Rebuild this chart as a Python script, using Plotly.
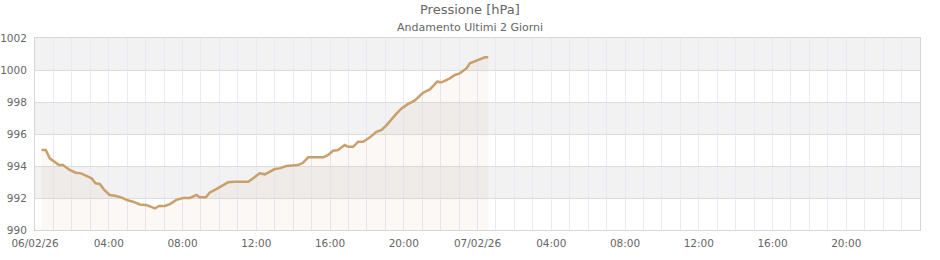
import plotly.graph_objects as go

times = [
    "2026-02-06 00:21", "2026-02-06 00:35", "2026-02-06 00:48", "2026-02-06 00:59",
    "2026-02-06 01:18", "2026-02-06 01:31", "2026-02-06 01:53", "2026-02-06 02:12",
    "2026-02-06 02:30", "2026-02-06 02:53", "2026-02-06 03:04", "2026-02-06 03:17",
    "2026-02-06 03:31", "2026-02-06 03:44", "2026-02-06 04:03", "2026-02-06 04:20",
    "2026-02-06 04:41", "2026-02-06 04:58", "2026-02-06 05:19", "2026-02-06 05:41",
    "2026-02-06 06:02", "2026-02-06 06:16", "2026-02-06 06:30", "2026-02-06 06:44",
    "2026-02-06 07:02", "2026-02-06 07:19", "2026-02-06 07:40", "2026-02-06 08:02",
    "2026-02-06 08:24", "2026-02-06 08:46", "2026-02-06 08:56", "2026-02-06 09:16",
    "2026-02-06 09:29", "2026-02-06 09:50", "2026-02-06 10:12", "2026-02-06 10:28",
    "2026-02-06 10:50", "2026-02-06 11:34", "2026-02-06 11:50", "2026-02-06 12:11",
    "2026-02-06 12:28", "2026-02-06 12:44", "2026-02-06 13:00", "2026-02-06 13:16",
    "2026-02-06 13:38", "2026-02-06 14:16", "2026-02-06 14:32", "2026-02-06 14:49",
    "2026-02-06 15:38", "2026-02-06 15:54", "2026-02-06 16:10", "2026-02-06 16:26",
    "2026-02-06 16:48", "2026-02-06 16:59", "2026-02-06 17:15", "2026-02-06 17:32",
    "2026-02-06 17:48", "2026-02-06 18:10", "2026-02-06 18:31", "2026-02-06 18:48",
    "2026-02-06 19:04", "2026-02-06 19:37", "2026-02-06 19:53", "2026-02-06 20:12",
    "2026-02-06 20:36", "2026-02-06 21:03", "2026-02-06 21:25", "2026-02-06 21:49",
    "2026-02-06 22:03", "2026-02-06 22:30", "2026-02-06 22:46", "2026-02-06 23:02",
    "2026-02-06 23:24", "2026-02-06 23:35", "2026-02-06 23:57", "2026-02-07 00:13",
    "2026-02-07 00:24", "2026-02-07 00:35",
]
pressure = [
    995.0, 995.0, 994.48, 994.33,
    994.06, 994.06, 993.75, 993.58,
    993.54, 993.33, 993.23, 992.92,
    992.88, 992.54, 992.19, 992.14,
    992.04, 991.88, 991.77, 991.6,
    991.56, 991.46, 991.35, 991.5,
    991.5, 991.62, 991.88, 992.0,
    992.0, 992.19, 992.04, 992.04,
    992.35, 992.56, 992.81, 992.98,
    993.02, 993.02, 993.23, 993.54,
    993.48, 993.65, 993.81, 993.85,
    994.0, 994.06, 994.2, 994.54,
    994.54, 994.69, 994.95, 995.0,
    995.31, 995.2, 995.2, 995.52,
    995.52, 995.79, 996.14, 996.25,
    996.56, 997.29, 997.6, 997.85,
    998.1, 998.58, 998.79, 999.27,
    999.23, 999.48, 999.69, 999.79,
    1000.1, 1000.42, 1000.58, 1000.67,
    1000.79, 1000.79,
]

tick_vals = [
    "2026-02-06 00:00", "2026-02-06 04:00", "2026-02-06 08:00", "2026-02-06 12:00",
    "2026-02-06 16:00", "2026-02-06 20:00", "2026-02-07 00:00", "2026-02-07 04:00",
    "2026-02-07 08:00", "2026-02-07 12:00", "2026-02-07 16:00", "2026-02-07 20:00",
]
tick_text = ["06/02/26", "04:00", "08:00", "12:00", "16:00", "20:00",
             "07/02/26", "04:00", "08:00", "12:00", "16:00", "20:00"]
y_ticks = [990, 992, 994, 996, 998, 1000, 1002]
bands = [(992, 994), (996, 998), (1000, 1002)]

x_range = ["2026-02-06 00:00", "2026-02-08 00:00"]

fig = go.Figure()
fig.add_trace(go.Scatter(
    x=times, y=pressure, mode="lines",
    line=dict(color="#c9a06c", width=2.5, shape="linear"),
    fill="tozeroy", fillcolor="rgba(201,160,108,0.07)",
    hoverinfo="x+y", showlegend=False,
))

for lo, hi in bands:
    fig.add_shape(type="rect", xref="paper", yref="y", x0=0, x1=1, y0=lo, y1=hi,
                  fillcolor="#f2f2f2", line=dict(width=0), layer="below")

font_family = "DejaVu Sans, Verdana, sans-serif"

# title and subtitle as annotations (positions in paper coords)
fig.add_annotation(text="Pressione [hPa]", xref="paper", yref="paper",
                   x=0.4915, y=1.146, xanchor="center", yanchor="middle",
                   showarrow=False, font=dict(size=13, color="#666666"))
fig.add_annotation(text="Andamento Ultimi 2 Giorni", xref="paper", yref="paper",
                   x=0.4915, y=1.057, xanchor="center", yanchor="middle",
                   showarrow=False, font=dict(size=11, color="#666666"))

fig.update_layout(
    width=940, height=260,
    margin=dict(l=35, r=20, t=38, b=30),
    paper_bgcolor="white", plot_bgcolor="white",
    font=dict(family=font_family, size=11, color="#666666"),
    xaxis=dict(
        type="date", range=x_range, automargin=False,
        tickvals=tick_vals, ticktext=tick_text,
        showgrid=True, gridcolor="#ebe8f8", gridwidth=1,
        minor=dict(dtick=3600000, showgrid=True, gridcolor="#ebe8f8", gridwidth=1),
        showline=True, linecolor="#d6d6d6", linewidth=1, mirror=True,
        ticks="", ticklabelstandoff=3, tickfont=dict(size=10.5, color="#666666"),
        zeroline=False, fixedrange=True,
    ),
    yaxis=dict(
        range=[990, 1002], tickvals=y_ticks, automargin=False,
        showgrid=True, gridcolor="#dcdcdc", gridwidth=1,
        showline=True, linecolor="#d6d6d6", linewidth=1, mirror=True,
        ticks="", ticklabelstandoff=5, tickfont=dict(size=10.5, color="#666666"),
        zeroline=False, fixedrange=True,
    ),
)

fig.write_html("out.html")
